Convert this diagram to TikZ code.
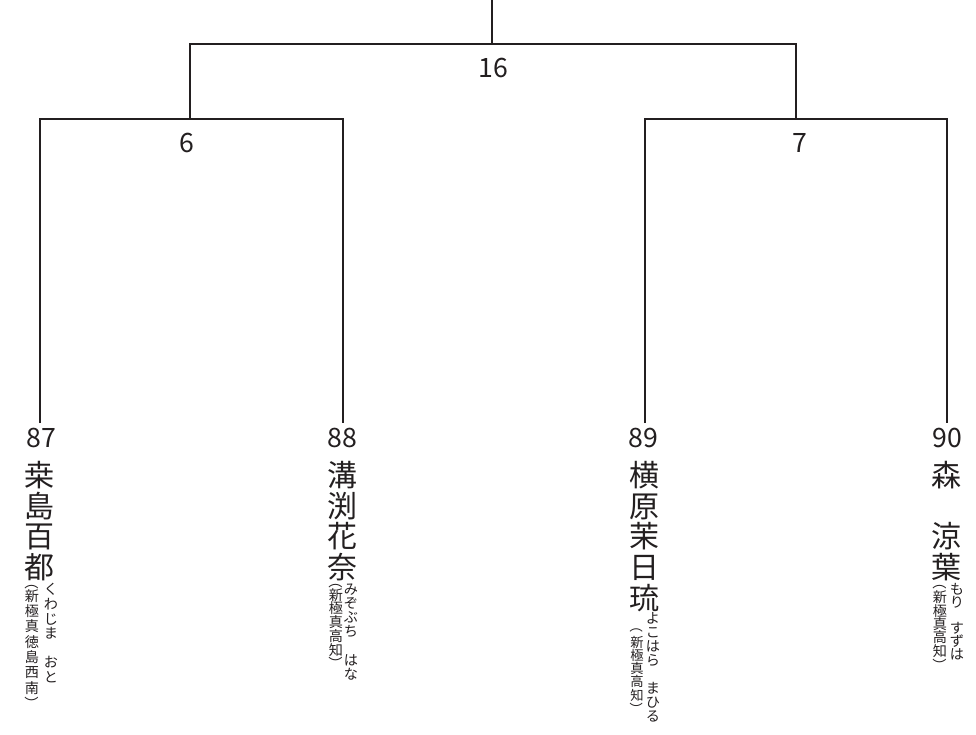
\documentclass[tikz,border=0pt]{standalone}
\usepackage{graphicx}
\usepackage{fontspec}
\setmainfont{Noto Sans CJK JP}
\newcommand\vlpar{\rotatebox[origin=c]{-90}{（}}
\newcommand\vrpar{\rotatebox[origin=c]{-90}{）}}
\begin{document}
\begin{tikzpicture}[x=0.75pt,y=-0.75pt,
  link/.style={line width=1.1pt, draw=ink},
  num/.style={font=\fontsize{20}{20}\selectfont, text=ink, inner sep=0pt},
  kname/.style={font=\fontsize{22.5}{23}\selectfont, text=ink, align=center, inner sep=0pt, anchor=north},
  kana/.style={font=\fontsize{10.6}{#1}\selectfont, text=ink, align=center, inner sep=0pt, anchor=north},
  aff/.style={font=\fontsize{10.6}{#1}\selectfont, text=ink, align=center, inner sep=0pt, anchor=north}]
\definecolor{ink}{HTML}{231F20}
\useasboundingbox (0,0) rectangle (976,735);
% junction coordinates
\coordinate (root) at (492,0);
\coordinate (j16) at (492,44);
\coordinate (j6) at (190,119);
\coordinate (j7) at (796,119);
\coordinate (l87) at (40,423);
\coordinate (l88) at (343,423);
\coordinate (l89) at (645,423);
\coordinate (l90) at (947,423);
% connectors
\draw[link] (root) -- (j16);
\draw[link] (j6) -- (j6 |- j16) -- (j7 |- j16) -- (j7);
\draw[link] (l87) -- (l87 |- j6) -- (l88 |- j6) -- (l88);
\draw[link] (l89) -- (l89 |- j7) -- (l90 |- j7) -- (l90);
% scores
\node[num] (s16) at (493,68) {16};
\node[num] (s6) at (187,143) {6};
\node[num] (s7) at (800,143) {7};
% seeds
\node[num] (n87) at (41,438) {87};
\node[num] (n88) at (342,438) {88};
\node[num] (n89) at (643,438) {89};
\node[num] (n90) at (947,438) {90};
% names
\node[kname] (m87) at (40,461) {桒\\島\\百\\都};
\node[kname] (m88) at (342,461) {溝\\渕\\花\\奈};
\node[kname] (m89) at (644,461) {横\\原\\茉\\日\\琉};
\node[kname] (m90) at (946,461) {森\\\phantom{森}\\涼\\葉};
% furigana
\node[kana=10.9pt] (f87) at (51,583.3) {く\\わ\\じ\\ま\\\phantom{ま}\\お\\と};
\node[kana=10.65pt] (f88) at (351,583.3) {み\\ぞ\\ぶ\\ち\\\phantom{ま}\\は\\な};
\node[kana=10.5pt] (f89) at (653,612) {よ\\こ\\は\\ら\\\phantom{ま}\\ま\\ひ\\る};
\node[kana=9.75pt] (f90) at (957,583.3) {も\\り\\\phantom{ま}\\す\\ず\\は};
% affiliations
\node[aff=11.5pt] (a87) at (32,575) {\vlpar\\[-1.35pt]新\\極\\真\\徳\\島\\西\\南\\\vrpar};
\node[aff=10.3pt] (a88) at (336,574) {\vlpar\\[-0.15pt]新\\極\\真\\高\\知\\\vrpar};
\node[aff=9.2pt, font=\fontsize{10}{9.2}\selectfont] (a89) at (637,619.5) {\vlpar\\[1.15pt]新\\極\\真\\高\\知\\\vrpar};
\node[aff=10pt] (a90) at (940,575) {\vlpar\\[0.15pt]新\\極\\真\\高\\知\\\vrpar};
\end{tikzpicture}
\end{document}
